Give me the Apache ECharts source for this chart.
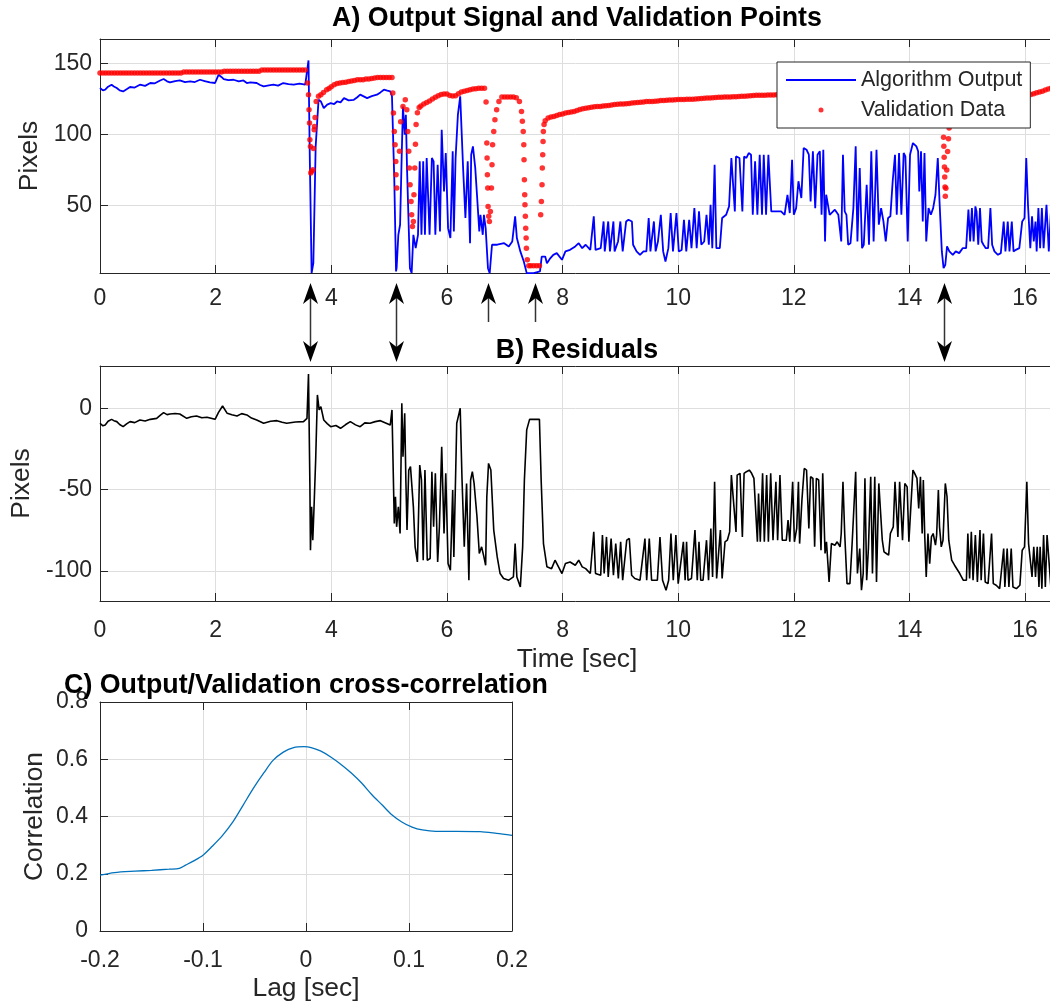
<!DOCTYPE html>
<html><head><meta charset="utf-8">
<script src="https://cdn.jsdelivr.net/npm/echarts@6/dist/echarts.min.js"></script>
<style>html,body{margin:0;padding:0;background:#fff}#c{width:1050px;height:1006px}</style>
</head><body><div id="c"></div>
<script>
// ---------------- DATA ----------------
const timeTicks = [0, 2, 4, 6, 8, 10, 12, 14, 16];
const pixelTicksA = [50, 100, 150];
const pixelTicksB = [-100, -50, 0];
const lagTicks = [-0.2, -0.1, 0, 0.1, 0.2];
const corrTicks = [0, 0.2, 0.4, 0.6, 0.8];

// Algorithm output [time sec, pixels]
const outputPixels = [
[0.00,132.7],[0.05,131.0],[0.09,131.5],[0.14,133.6],[0.20,135.0],[0.24,133.8],[0.29,132.7],[0.34,131.0],[0.40,130.3],[0.46,131.8],[0.52,133.4],[0.60,133.0],[0.69,135.0],[0.78,134.2],[0.87,136.2],[0.95,136.0],[1.04,138.0],[1.10,139.0],[1.16,137.4],[1.21,136.6],[1.30,137.6],[1.38,138.0],[1.47,136.8],[1.56,137.3],[1.64,136.9],[1.73,138.5],[1.81,137.6],[1.90,136.6],[1.99,136.2],[2.05,142.0],[2.10,140.5],[2.14,139.0],[2.22,138.2],[2.31,138.5],[2.40,137.4],[2.48,138.0],[2.54,136.2],[2.60,136.6],[2.71,136.2],[2.77,134.8],[2.83,133.9],[2.92,134.6],[3.00,135.0],[3.08,134.4],[3.17,136.2],[3.26,135.4],[3.35,135.0],[3.45,135.8],[3.55,135.0],[3.606,152.1],[3.63,79.9],[3.66,2.4],[3.69,9.4],[3.73,91.6],[3.78,124.4],[3.82,123.2],[3.87,118.5],[3.93,121.0],[3.99,122.0],[4.05,121.4],[4.10,123.2],[4.16,122.6],[4.22,125.6],[4.30,124.0],[4.39,124.4],[4.45,126.2],[4.50,128.0],[4.56,126.8],[4.62,125.6],[4.70,127.0],[4.79,128.0],[4.85,129.6],[4.91,131.5],[4.97,130.8],[5.02,130.3],[5.05,126.8],[5.09,68.0],[5.12,3.5],
[5.13,5.8],[5.16,29.3],[5.19,36.4],[5.22,88.1],[5.24,119.7],[5.27,99.8],[5.29,113.9],[5.31,76.4],[5.36,5.8],[5.39,2.4],[5.42,29.3],[5.46,19.9],[5.50,29.3],[5.53,81.0],[5.56,29.3],[5.59,81.0],[5.62,29.3],[5.65,83.4],[5.70,29.3],[5.74,83.4],[5.77,81.0],[5.80,29.3],[5.84,78.7],[5.88,31.7],[5.91,103.3],[5.95,59.9],[5.98,86.9],[6.02,34.0],[6.06,27.0],[6.10,88.1],[6.12,31.7],[6.15,83.4],[6.19,113.9],[6.23,126.8],[6.28,76.4],[6.32,41.1],[6.36,81.0],[6.40,23.4],[6.42,85.7],[6.45,91.6],[6.49,76.4],[6.52,57.5],[6.56,31.7],[6.58,43.4],[6.62,29.3],[6.64,43.4],[6.67,34.0],[6.71,5.8],[6.74,2.3],[6.78,22.3],[6.87,22.3],[6.99,23.4],[7.07,21.1],[7.13,24.6],[7.15,31.7],[7.18,42.3],[7.21,27.0],[7.27,17.6],[7.33,10.5],[7.38,2.3],[7.50,2.3],[7.61,3.5],[7.64,14.0],[7.70,14.0],[7.73,9.3],[7.79,12.9],[7.84,15.2],[7.90,16.4],[7.99,11.7],[8.05,17.6],[8.13,18.7],[8.22,21.1],[8.28,23.4],[8.34,19.9],[8.40,22.3],[8.48,18.7],[8.54,42.3],[8.57,18.7],[8.66,19.9],
[8.71,38.7],[8.73,17.6],[8.79,38.7],[8.82,17.6],[8.88,38.7],[8.90,17.6],[8.96,24.6],[9.00,38.7],[9.04,17.6],[9.10,38.7],[9.14,39.9],[9.20,38.7],[9.22,22.3],[9.28,17.6],[9.34,15.2],[9.40,17.6],[9.45,17.6],[9.49,41.1],[9.52,17.6],[9.58,38.7],[9.61,17.6],[9.65,24.6],[9.70,43.4],[9.74,17.6],[9.78,10.5],[9.83,19.9],[9.87,44.6],[9.91,17.6],[9.97,44.6],[10.01,17.6],[10.06,18.7],[10.10,39.9],[10.14,17.6],[10.19,39.9],[10.23,19.9],[10.28,48.1],[10.32,19.9],[10.36,45.8],[10.40,22.3],[10.45,24.6],[10.49,43.4],[10.53,22.3],[10.56,50.5],[10.59,19.9],[10.63,78.7],[10.66,19.9],[10.72,19.9],[10.76,41.1],[10.79,42.3],[10.83,43.4],[10.88,49.3],[10.92,83.4],[10.95,84.5],[10.98,45.8],[11.00,84.5],[11.06,83.4],[11.11,45.8],[11.14,84.5],[11.18,83.4],[11.22,86.9],[11.26,85.7],[11.29,43.4],[11.33,81.0],[11.37,43.4],[11.41,85.7],[11.45,43.4],[11.48,85.7],[11.52,43.4],[11.56,85.7],[11.61,45.8],[11.67,45.8],[11.72,45.8],[11.78,45.8],[11.84,43.4],[11.89,57.5],[11.93,44.6],[11.97,82.2],[12.00,43.4],[12.04,48.1],[12.08,67.0],[12.13,55.2],[12.17,90.4],[12.22,89.2],[12.26,85.7],[12.29,52.8],[12.33,88.1],[12.37,48.1],[12.41,85.7],
[12.45,88.1],[12.48,43.4],[12.51,89.2],[12.54,24.6],[12.56,57.5],[12.62,43.4],[12.71,47.0],[12.77,43.4],[12.82,24.6],[12.85,85.7],[12.88,45.8],[12.91,43.4],[12.94,22.3],[12.98,23.4],[13.03,48.1],[13.07,91.6],[13.10,24.6],[13.14,76.4],[13.18,19.9],[13.21,22.3],[13.26,64.6],[13.30,22.3],[13.34,88.1],[13.38,24.6],[13.43,89.2],[13.47,36.4],[13.51,48.1],[13.55,38.7],[13.59,24.6],[13.63,41.1],[13.67,42.3],[13.71,67.0],[13.75,85.7],[13.78,43.4],[13.82,86.9],[13.86,43.4],[13.90,86.9],[13.93,84.5],[13.97,24.6],[14.01,85.7],[14.06,93.9],[14.12,91.6],[14.15,88.1],[14.17,59.9],[14.20,88.1],[14.23,38.7],[14.26,86.9],[14.29,24.6],[14.33,48.1],[14.37,43.4],[14.41,48.1],[14.45,57.5],[14.49,83.4],[14.52,52.8],[14.56,17.6],[14.59,5.8],[14.62,8.2],[14.65,21.1],[14.69,17.6],[14.75,15.2],[14.80,17.6],[14.86,16.4],[14.92,19.9],[14.98,19.9],[15.02,47.0],[15.05,24.6],[15.08,48.1],[15.11,24.6],[15.14,49.3],[15.16,45.8],[15.19,22.3],[15.22,48.1],[15.25,24.6],[15.28,22.3],[15.32,19.9],[15.36,19.9],[15.40,48.1],[15.43,22.3],[15.47,17.6],[15.53,15.2],[15.58,16.4],[15.63,38.7],[15.66,17.6],[15.70,38.7],[15.73,17.6],[15.77,38.7],[15.80,17.6],[15.84,18.7],[15.90,19.9],[15.95,38.7],[15.99,41.1],[16.02,83.4],[16.05,50.5],[16.09,19.9],[16.12,42.3],[16.15,24.6],[16.18,38.7],[16.20,17.6],[16.23,48.1],[16.26,19.9],[16.29,48.1],[16.32,19.9],[16.37,50.5],[16.41,17.6],[16.45,48.1]
];

// Validation data [time sec, pixels]
const validationPixels = [
[0.00,143.2],[0.05,143.2],[0.10,143.2],[0.15,143.2],[0.20,143.2],[0.25,143.2],[0.30,143.2],[0.35,143.2],[0.40,143.2],[0.45,143.2],[0.50,143.2],[0.55,143.2],[0.60,143.2],[0.65,143.2],[0.70,143.2],[0.75,143.2],[0.80,143.2],[0.85,143.2],[0.90,143.2],[0.95,143.2],[1.00,143.2],[1.05,143.2],[1.10,143.2],[1.15,143.2],[1.20,143.2],[1.25,143.2],[1.30,143.2],[1.35,143.2],[1.40,143.2],
[1.45,143.9],[1.50,143.9],[1.55,143.9],[1.60,143.9],[1.65,143.9],[1.70,143.9],[1.75,143.9],[1.80,143.9],[1.85,143.9],[1.90,143.9],[1.95,143.9],[2.00,143.9],[2.05,143.9],[2.10,143.9],
[2.15,144.4],[2.20,144.4],[2.25,144.4],[2.30,144.4],[2.35,144.4],[2.40,144.4],[2.45,144.4],[2.50,144.4],[2.55,144.4],[2.60,144.4],[2.65,144.4],[2.70,144.4],[2.75,144.4],
[2.80,145.3],[2.85,145.3],[2.90,145.3],[2.95,145.3],[3.00,145.3],[3.05,145.3],[3.10,145.3],[3.15,145.3],[3.20,145.3],[3.25,145.3],[3.30,145.3],[3.35,145.3],[3.40,145.3],[3.45,145.3],[3.50,145.3],[3.55,145.3],
[3.589,136.2],[3.606,128.0],[3.615,117.4],[3.623,108.0],[3.63,96.3],[3.64,91.5],[3.646,72.8],[3.66,74.0],[3.681,75.1],[3.69,90.0],[3.704,103.3],[3.71,105.6],[3.72,112.0],[3.739,123.2],[3.779,126.8],[3.82,128.0],[3.865,129.5],[3.92,131.5],[3.96,132.4],
[4.00,133.5],[4.05,135.0],[4.10,135.8],[4.15,136.2],[4.20,136.6],[4.25,136.8],[4.30,137.3],[4.35,137.6],[4.40,138.0],[4.45,138.5],[4.50,138.5],[4.55,138.5],[4.60,139.0],[4.65,139.0],[4.70,139.4],[4.75,139.8],[4.80,140.0],[4.85,140.1],[4.90,140.1],[4.95,140.1],[5.00,140.1],[5.05,140.1],
[5.064,129.2],[5.075,115.0],[5.09,102.0],[5.104,92.7],[5.116,81.0],[5.12,71.6],[5.133,62.3],[5.18,88.1],[5.20,109.0],[5.24,119.7],[5.28,124.4],[5.306,117.4],[5.323,102.0],[5.34,88.1],[5.35,76.4],[5.363,64.6],[5.38,52.8],[5.39,43.4],[5.404,35.2],[5.42,38.7],[5.43,57.5],[5.445,76.4],[5.456,93.0],[5.467,107.0],[5.49,115.3],[5.52,119.0],
[5.55,120.0],[5.60,121.5],[5.65,122.5],[5.70,123.5],[5.75,125.0],[5.80,126.2],[5.85,127.3],[5.90,128.2],[5.95,128.4],[6.00,128.4],[6.05,127.4],[6.10,127.0],[6.15,127.3],[6.20,128.6],[6.25,129.9],[6.30,130.4],[6.35,130.9],[6.40,131.4],[6.45,131.9],[6.50,132.2],[6.55,132.5],[6.60,132.6],[6.65,132.6],
[6.677,122.8],[6.69,93.9],[6.695,83.4],[6.70,71.6],[6.706,62.3],[6.712,49.3],[6.723,42.3],[6.735,38.7],[6.752,45.8],[6.77,62.3],[6.78,78.7],[6.79,92.7],[6.81,102.0],[6.83,110.3],[6.86,117.4],[6.90,123.2],[6.95,126.3],[7.00,126.3],[7.05,126.3],[7.10,126.3],[7.15,126.3],[7.20,125.8],[7.254,123.2],[7.29,116.2],[7.305,109.2],[7.32,102.0],[7.33,92.7],[7.334,82.2],[7.34,68.1],[7.346,57.5],[7.35,50.5],[7.357,42.3],[7.363,34.0],[7.37,27.0],[7.375,19.9],[7.39,11.7],[7.415,7.5],[7.45,7.5],[7.50,7.5],[7.55,7.5],[7.60,7.5],
[7.622,43.4],[7.634,52.8],[7.645,64.6],[7.65,76.4],[7.657,85.7],[7.663,95.1],[7.668,102.0],[7.68,107.0],
[7.70,109.7],[7.75,111.6],[7.80,112.2],[7.85,112.7],[7.90,113.4],[7.95,114.0],[8.00,114.4],[8.05,115.0],[8.10,115.5],[8.15,115.8],[8.20,116.2],[8.25,116.8],[8.30,117.5],[8.35,118.0],[8.40,118.5],[8.45,118.8],[8.50,119.2],[8.55,119.5],[8.60,119.7],[8.65,119.7],[8.70,120.0],[8.75,120.2],[8.80,120.4],[8.85,120.7],[8.90,121.0],[8.95,121.3],[9.00,121.4],[9.05,121.4],[9.10,121.6],[9.15,121.8],[9.20,122.1],[9.25,122.3],[9.30,122.5],[9.35,122.7],[9.40,122.9],[9.45,123.2],[9.50,123.2],[9.55,123.2],[9.60,123.4],[9.65,123.6],[9.70,123.8],[9.75,123.9],[9.80,124.0],[9.85,124.2],[9.90,124.3],[9.95,124.4],[10.00,124.6],[10.05,124.6],[10.10,124.6],[10.15,124.7],[10.20,124.8],[10.25,124.8],[10.30,125.0],[10.35,125.1],[10.40,125.3],[10.45,125.5],[10.50,125.6],[10.55,125.7],[10.60,125.8],[10.65,126.0],[10.70,126.1],[10.75,126.2],[10.80,126.3],[10.85,126.3],[10.90,126.4],[10.95,126.5],[11.00,126.6],[11.05,126.7],[11.10,126.8],[11.15,126.9],[11.20,127.1],[11.25,127.2],[11.30,127.4],[11.35,127.5],[11.40,127.5],[11.45,127.6],[11.50,127.6],[11.55,127.7],[11.60,127.8],[11.65,127.8],[11.70,127.9],[11.75,128.0],
[11.9,128.0],[12.1,128.1],[12.3,128.2],[12.5,128.3],[12.7,128.4],[12.9,128.5],[13.1,128.6],[13.3,128.7],[13.5,128.8],[13.7,128.9],[13.9,129.0],[14.1,129.1],[14.3,129.1],[14.5,129.2],
[14.56,129.2],[14.585,110.0],[14.59,98.0],[14.595,91.6],[14.60,84.0],[14.605,77.0],[14.61,70.0],[14.615,63.0],[14.62,56.4],[14.63,62.0],[14.645,75.0],[14.66,88.0],[14.675,97.0],[14.686,104.5],[14.70,112.0],[14.72,120.0],[14.76,125.0],[14.80,126.5],
[14.9,127.0],[15.1,127.2],[15.3,127.4],[15.5,127.6],[15.7,127.8],[15.9,128.0],
[16.00,128.0],[16.05,128.0],[16.10,128.2],[16.15,128.7],[16.20,129.3],[16.25,129.8],[16.30,130.4],[16.35,131.2],[16.40,132.0],[16.45,132.7]
];

// Residuals [time sec, pixels]
const residualPixels = [
[0.00,-9.2],[0.05,-10.8],[0.09,-10.3],[0.14,-8.0],[0.20,-6.8],[0.24,-7.6],[0.29,-8.2],[0.34,-10.0],[0.40,-11.3],[0.46,-9.6],[0.52,-8.2],[0.60,-8.8],[0.69,-7.2],[0.78,-7.8],[0.87,-6.8],[0.98,-6.2],[1.04,-4.4],[1.10,-2.7],[1.16,-3.9],[1.21,-3.5],[1.30,-3.2],[1.38,-3.5],[1.50,-6.2],[1.58,-5.2],[1.67,-4.7],[1.76,-5.8],[1.85,-5.5],[1.99,-6.8],[2.05,-2.5],[2.12,1.4],[2.20,-3.1],[2.28,-4.0],[2.37,-4.7],[2.45,-3.3],[2.54,-4.1],[2.62,-6.0],[2.71,-7.2],[2.83,-9.2],[2.95,-8.0],[3.06,-7.6],[3.15,-8.6],[3.23,-9.2],[3.38,-8.4],[3.52,-8.2],[3.58,-6.2],[3.606,21.1],[3.63,-46.2],[3.64,-87.3],[3.66,-60.6],[3.68,-81.1],[3.70,-62.6],[3.73,-31.8],[3.76,8.2],[3.79,-1.0],[3.82,1.0],[3.87,-7.2],[3.93,-9.4],[3.99,-11.3],[4.08,-10.6],[4.16,-12.3],[4.25,-10.0],[4.33,-8.2],[4.42,-10.2],[4.50,-11.3],[4.58,-9.0],[4.67,-9.2],[4.76,-8.2],[4.85,-7.6],[4.94,-9.0],[5.02,-10.3],[5.05,-1.0],
[5.09,-70.8],[5.11,-54.4],[5.13,-72.9],[5.16,-60.6],[5.19,-77.0],[5.22,3.1],[5.24,-29.8],[5.27,-3.1],[5.29,-44.1],[5.31,-74.9],[5.34,-38.0],[5.37,-35.9],[5.42,-60.6],[5.45,-85.2],[5.49,-94.5],[5.53,-34.9],[5.56,-44.1],[5.59,-93.4],[5.62,-38.0],[5.66,-93.4],[5.71,-92.4],[5.74,-39.0],[5.77,-72.9],[5.80,-40.0],[5.84,-94.5],[5.87,-72.9],[5.91,-23.6],[5.95,-77.0],[5.98,-40.0],[6.02,-95.5],[6.06,-99.6],[6.10,-50.3],[6.12,-91.4],[6.17,-9.2],[6.21,-3.1],[6.23,0.0],[6.26,-42.1],[6.30,-85.2],[6.34,-46.2],[6.38,-105.7],[6.41,-44.1],[6.44,-39.0],[6.47,-46.2],[6.52,-66.7],[6.56,-89.3],[6.60,-85.2],[6.64,-91.4],[6.67,-96.5],[6.69,-54.4],[6.72,-33.9],[6.76,-38.0],[6.81,-74.9],[6.87,-91.4],[6.92,-101.6],[6.98,-104.7],[7.07,-105.7],[7.15,-103.7],[7.18,-83.2],[7.21,-103.7],[7.27,-109.9],[7.31,-85.2],[7.34,-44.1],[7.38,-13.3],[7.43,-6.8],[7.50,-6.8],[7.60,-6.8],[7.63,-44.1],[7.67,-83.2],[7.73,-97.5],[7.81,-98.6],[7.87,-93.4],[7.93,-97.5],[7.99,-101.6],[8.05,-95.5],[8.13,-94.5],[8.22,-96.5],[8.28,-93.4],[8.34,-97.5],[8.40,-98.6],[8.48,-101.6],[8.54,-76.0],[8.57,-101.6],[8.66,-102.7],[8.69,-78.0],[8.72,-101.6],[8.76,-79.1],[8.79,-103.7],[8.84,-80.1],[8.88,-102.7],[8.92,-83.2],[8.965,-104.7],[9.005,-82.1],[9.04,-105.7],[9.11,-81.1],[9.155,-80.1],[9.195,-102.7],[9.25,-104.7],[9.34,-105.7],[9.425,-80.1],[9.455,-105.7],[9.50,-80.1],[9.54,-105.7],[9.60,-105.7],[9.64,-105.7],[9.685,-79.1],[9.73,-105.7],[9.79,-111.9],[9.835,-105.7],[9.875,-77.0],[9.915,-105.7],[9.96,-78.0],[10.00,-107.8],
[10.03,-106.8],[10.09,-82.1],[10.12,-105.7],[10.145,-82.1],[10.17,-105.7],[10.23,-104.7],[10.29,-74.9],[10.33,-105.7],[10.36,-82.1],[10.39,-105.7],[10.43,-105.7],[10.49,-81.1],[10.525,-105.7],[10.565,-73.9],[10.595,-103.7],[10.63,-45.2],[10.665,-104.7],[10.69,-105.7],[10.73,-74.9],[10.76,-104.7],[10.81,-82.1],[10.85,-81.1],[10.89,-76.0],[10.92,-41.1],[10.95,-40.0],[11.00,-76.0],[11.02,-41.1],[11.07,-40.0],[11.11,-79.1],[11.14,-40.0],[11.18,-39.0],[11.23,-38.0],[11.27,-40.0],[11.31,-43.1],[11.37,-82.1],[11.39,-52.4],[11.42,-82.1],[11.46,-40.0],[11.49,-82.1],[11.53,-41.1],[11.56,-82.1],[11.60,-40.0],[11.64,-81.1],[11.69,-45.2],[11.72,-81.1],[11.76,-41.1],[11.80,-81.1],[11.87,-81.1],[11.90,-68.8],[11.93,-82.1],[11.98,-45.2],[12.01,-82.1],[12.05,-73.9],[12.08,-45.2],[12.10,-83.2],[12.14,-56.5],[12.18,-37.0],[12.22,-38.0],[12.26,-73.9],[12.29,-42.1],[12.33,-43.1],[12.36,-85.2],[12.39,-43.1],[12.43,-44.1],[12.47,-87.3],[12.50,-40.0],[12.54,-89.3],[12.565,-82.1],[12.61,-106.8],[12.65,-83.2],[12.71,-84.2],[12.75,-82.1],[12.80,-85.2],[12.82,-77.0],[12.85,-45.2],[12.88,-77.0],[12.92,-107.8],[12.97,-107.8],[13.01,-82.1],[13.04,-82.1],[13.07,-39.0],[13.10,-101.6],[13.14,-86.2],[13.17,-111.9],[13.20,-101.6],[13.23,-43.1],[13.26,-105.7],[13.29,-86.2],[13.33,-42.1],[13.36,-101.6],[13.40,-42.1],[13.43,-106.8],[13.47,-46.2],[13.50,-46.2],[13.53,-81.1],[13.56,-88.3],[13.60,-89.3],[13.64,-90.3],[13.67,-77.0],[13.72,-72.9],[13.75,-45.2],[13.775,-44.1],[13.80,-79.1],[13.83,-45.2],[13.88,-81.1],[13.92,-46.2],[13.96,-48.3],[13.99,-82.1],[14.02,-82.1],[14.06,-38.0],[14.09,-40.0],[14.13,-43.1],[14.16,-61.6],[14.19,-42.1],[14.22,-77.0],[14.24,-44.1],[14.265,-79.1],[14.29,-103.7],[14.32,-77.0],[14.35,-95.5],[14.38,-79.1],[14.41,-77.0],[14.45,-84.2],[14.47,-78.0],[14.50,-50.3],[14.52,-72.9],[14.55,-85.2],[14.58,-81.1],[14.62,-46.2],[14.65,-54.4],[14.68,-81.1],[14.73,-93.4],[14.78,-96.5],[14.87,-101.6],[14.93,-105.7],[14.985,-105.7],[15.01,-77.0],[15.04,-104.7],[15.07,-76.0],[15.10,-105.7],[15.14,-78.0],[15.175,-106.8],[15.22,-74.9],[15.24,-105.7],[15.28,-77.0],[15.31,-106.8],[15.36,-107.8],[15.42,-77.0],[15.45,-107.8],[15.50,-108.8],[15.56,-110.9],[15.63,-86.2],[15.65,-109.9],[15.69,-86.2],[15.72,-109.9],[15.76,-86.2],[15.79,-109.9],[15.85,-110.9],[15.91,-108.8],[15.95,-87.3],[15.99,-85.2],[16.03,-45.2],[16.06,-83.2],[16.09,-93.4],[16.12,-103.7],[16.15,-85.2],[16.18,-103.7],[16.21,-85.2],[16.24,-109.9],[16.26,-85.2],[16.29,-110.9],[16.32,-78.0],[16.35,-109.9],[16.38,-78.0],[16.45,-111.9]
];

// Cross-correlation
const lagSec = [-0.200,-0.186,-0.166,-0.150,-0.133,-0.123,-0.117,-0.109,-0.100,-0.091,-0.081,-0.071,-0.061,-0.051,-0.041,-0.032,-0.022,-0.012,-0.002,0.005,0.014,0.024,0.034,0.044,0.054,0.064,0.074,0.083,0.093,0.103,0.113,0.126,0.146,0.169,0.185,0.200];
const correlation = [0.195,0.204,0.209,0.212,0.216,0.219,0.230,0.245,0.265,0.296,0.334,0.381,0.440,0.499,0.552,0.596,0.625,0.641,0.644,0.641,0.629,0.608,0.582,0.552,0.517,0.476,0.440,0.407,0.381,0.363,0.353,0.348,0.348,0.347,0.341,0.334];

// Event markers (time, sec)
const arrowDoubleTimes = [3.63, 5.12, 14.6];
const arrowUpTimes = [6.71, 7.52];

// ---------------- STYLE / LAYOUT ----------------
const FONT = '"Liberation Sans", Arial, Helvetica, sans-serif';
const AX = '#262626';
const GRIDC = '#dedede';
const TICK_FS = 23, LABEL_FS = 26.4, TITLE_FS = 26.8;
const T_MIN = 0, T_MAX = 16.5;

function fmt(ticks) {
  return function (v) {
    for (const t of ticks) if (Math.abs(v - t) < 1e-9) return String(t);
    return '';
  };
}
function mainAxis(gi, pos, min, max, ticks, margin, extra) {
  const o = {
    type: 'value', gridIndex: gi, position: pos, min: min, max: max,
    axisLine: { show: true, onZero: false, lineStyle: { color: AX, width: 1 } },
    axisTick: { show: true, inside: true, length: 8, lineStyle: { color: AX, width: 1 } },
    axisLabel: { show: true, margin: margin, color: AX, fontSize: TICK_FS, fontFamily: FONT, formatter: fmt(ticks) },
    splitLine: { show: true, lineStyle: { color: GRIDC, width: 1 } },
    nameTextStyle: { color: AX, fontSize: LABEL_FS, fontFamily: FONT }
  };
  return Object.assign(o, extra || {});
}
function mirrorAxis(gi, pos, min, max, extra) {
  return Object.assign({
    type: 'value', gridIndex: gi, position: pos, min: min, max: max,
    axisLine: { show: true, onZero: false, lineStyle: { color: AX, width: 1 } },
    axisTick: { show: true, inside: true, length: 8, lineStyle: { color: AX, width: 1 } },
    axisLabel: { show: false }, splitLine: { show: false }
  }, extra || {});
}

const gridA = { left: 100, top: 39, height: 234, right: -4 };
const gridB = { left: 100, top: 366, height: 235, right: -4 };
const gridC = { left: 100, top: 702, width: 412, height: 229 };
[gridA, gridB, gridC].forEach(g => { g.containLabel = false; g.outerBoundsMode = 'none'; });

const option = {
  animation: false,
  backgroundColor: '#ffffff',
  title: [
    { text: 'A) Output Signal and Validation Points', left: 577, top: 5, textAlign: 'center', padding: 0,
      textStyle: { fontSize: TITLE_FS, fontWeight: 'bold', fontFamily: FONT, color: '#000' } },
    { text: 'B) Residuals', left: 577, top: 337, textAlign: 'center', padding: 0,
      textStyle: { fontSize: TITLE_FS, fontWeight: 'bold', fontFamily: FONT, color: '#000' } },
    { text: 'C) Output/Validation cross-correlation', left: 306, top: 672, textAlign: 'center', padding: 0,
      textStyle: { fontSize: TITLE_FS, fontWeight: 'bold', fontFamily: FONT, color: '#000' } }
  ],
  legend: {
    orient: 'vertical', left: 777, top: 62, padding: [6, 8, 6, 8], itemGap: 6,
    itemWidth: 70, itemHeight: 5, backgroundColor: '#ffffff', borderColor: AX, borderWidth: 1, borderRadius: 0,
    selectedMode: false,
    textStyle: { color: AX, fontSize: 21.5, fontFamily: FONT, lineHeight: 24 },
    data: [
      { name: 'Algorithm Output', itemStyle: { opacity: 0 }, lineStyle: { color: '#0000ff', width: 2 } },
      { name: 'Validation Data', icon: 'circle' }
    ]
  },
  grid: [gridA, gridB, gridC],
  xAxis: [
    mainAxis(0, 'bottom', T_MIN, T_MAX, timeTicks, 14, { interval: 2 }),
    mirrorAxis(0, 'top', T_MIN, T_MAX, { interval: 2 }),
    mainAxis(1, 'bottom', T_MIN, T_MAX, timeTicks, 18, { interval: 2, name: 'Time [sec]', nameLocation: 'middle', nameGap: 46 }),
    mirrorAxis(1, 'top', T_MIN, T_MAX, { interval: 2 }),
    mainAxis(2, 'bottom', -0.2, 0.2, lagTicks, 18, { interval: 0.1, name: 'Lag [sec]', nameLocation: 'middle', nameGap: 45 }),
    mirrorAxis(2, 'top', -0.2, 0.2, { interval: 0.1 })
  ],
  yAxis: [
    mainAxis(0, 'left', 2.4, 167.2, pixelTicksA, 8, { minInterval: 50, maxInterval: 50, splitNumber: 3, name: 'Pixels', nameLocation: 'middle', nameGap: 55 }),
    mainAxis(1, 'left', -118.5, 26, pixelTicksB, 8, { minInterval: 50, maxInterval: 50, splitNumber: 3, name: 'Pixels', nameLocation: 'middle', nameGap: 65 }),
    mainAxis(2, 'left', 0, 0.8, corrTicks, 12, { interval: 0.2, name: 'Correlation', nameLocation: 'middle', nameGap: 52 }),
    mirrorAxis(2, 'right', 0, 0.8, { interval: 0.2 })
  ],
  series: [
    { name: 'Algorithm Output', type: 'line', xAxisIndex: 0, yAxisIndex: 0, data: outputPixels,
      symbol: 'none', showSymbol: false, color: '#0000ff', itemStyle: { opacity: 0 },
      lineStyle: { color: '#0000ff', width: 1.8 }, z: 2 },
    { name: 'Validation Data', type: 'scatter', xAxisIndex: 0, yAxisIndex: 0, data: validationPixels,
      symbol: 'circle', symbolSize: 5.5, itemStyle: { color: '#ff0000' }, color: '#ff0000', z: 3 },
    { name: 'Residuals', type: 'line', xAxisIndex: 2, yAxisIndex: 1, data: residualPixels,
      symbol: 'none', showSymbol: false, lineStyle: { color: '#000000', width: 1.6 }, z: 2 },
    { name: 'Cross-correlation', type: 'line', xAxisIndex: 4, yAxisIndex: 2,
      data: lagSec.map((l, i) => [l, correlation[i]]), smooth: 0.3,
      symbol: 'none', showSymbol: false, lineStyle: { color: '#0072BD', width: 1.3 }, z: 2 }
  ]
};

const chart = echarts.init(document.getElementById('c'), null, { renderer: 'canvas' });
chart.setOption(option);

// Arrows between panels A and B (x from the time axis)
const TIP_TOP = 283, TIP_BOTTOM = 362, UP_TAIL = 322;
function head(x, tipY, s) {
  const L = 21, W = 7.5, N = 15;
  return { type: 'polygon', z: 100, silent: true,
    shape: { points: [[x, tipY], [x - W, tipY + s * L], [x, tipY + s * N], [x + W, tipY + s * L]] },
    style: { fill: '#000000' } };
}
function shaft(x, y1, y2) {
  return { type: 'line', z: 99, silent: true, shape: { x1: x, y1: y1, x2: x, y2: y2 },
    style: { stroke: '#333333', lineWidth: 1.5 } };
}
const gfx = [];
arrowDoubleTimes.forEach(t => {
  const x = Math.round(chart.convertToPixel({ xAxisIndex: 0 }, t)) + 0.5;
  gfx.push(shaft(x, TIP_TOP + 14, TIP_BOTTOM - 14), head(x, TIP_TOP, 1), head(x, TIP_BOTTOM, -1));
});
arrowUpTimes.forEach(t => {
  const x = Math.round(chart.convertToPixel({ xAxisIndex: 0 }, t)) + 0.5;
  gfx.push(shaft(x, TIP_TOP + 14, UP_TAIL), head(x, TIP_TOP, 1));
});
chart.setOption({ graphic: gfx });
</script></body></html>
